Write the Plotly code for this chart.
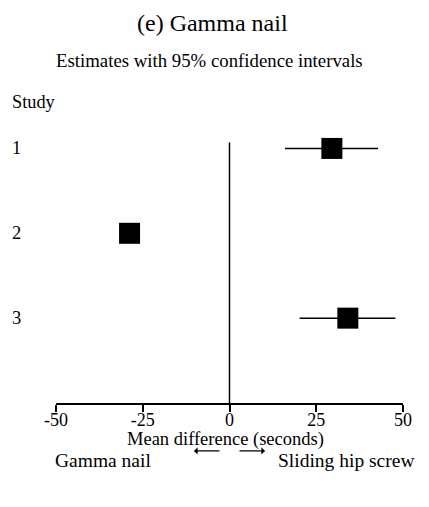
import plotly.graph_objects as go

studies = [1, 2, 3]
study_labels = ["1", "2", "3"]
estimates = [29.5, -28.8, 34.1]
ci_low = [16.0, -30.5, 20.2]
ci_high = [42.8, -27.0, 47.8]
x_ticks = [-50, -25, 0, 25, 50]
x_tick_labels = ["-50", "-25", "0", "25", "50"]

FONT = "Liberation Serif, Times New Roman, serif"
W, H = 429, 507
OFF = 8  # page body margin
L, R = 56 - OFF, 403 - OFF
T, B = 105.5 - OFF, 403 - OFF

def px(p):
    return (p - OFF - L) / (R - L)

def py(p):
    return (B - (p - OFF)) / (B - T)

fig = go.Figure()

# zero reference line
fig.add_trace(go.Scatter(
    x=[0, 0], y=[0.93, 4], mode="lines",
    line=dict(color="black", width=1.5), hoverinfo="skip", showlegend=False))

fig.add_trace(go.Scatter(
    x=estimates, y=studies, mode="markers",
    marker=dict(symbol="square", size=21, color="black"),
    error_x=dict(type="data", symmetric=False,
                 array=[h - e for h, e in zip(ci_high, estimates)],
                 arrayminus=[e - l for e, l in zip(estimates, ci_low)],
                 color="black", thickness=1.5, width=0),
    showlegend=False))

annotations = [
    dict(text="(e) Gamma nail", x=px(212), y=py(22.5), font=dict(size=24)),
    dict(text="Estimates with 95% confidence intervals", x=px(209), y=py(60), font=dict(size=18.8)),
    dict(text="Study", x=px(10), y=py(101), xanchor="left", font=dict(size=18.3)),
    dict(text="Mean difference (seconds)", x=px(225), y=py(439.5), font=dict(size=18.5)),
    dict(text="Gamma nail", x=px(53), y=py(461), xanchor="left", font=dict(size=19.5)),
    dict(text="Sliding hip screw", x=px(417), y=py(461), xanchor="right", font=dict(size=19.5)),
]
for a in annotations:
    a.setdefault("xanchor", "center")
    a.update(xref="paper", yref="paper", yanchor="middle", showarrow=False)
    a["font"] = dict(family=a["font"].get("family", FONT), color="black", size=a["font"]["size"])

# direction arrows (drawn as annotation arrows)
for head, tail in [(194, 221), (265, 238)]:
    annotations.append(dict(text="", x=px(head), y=py(451), xref="paper", yref="paper",
                            ax=tail - head, ay=0, showarrow=True, arrowhead=1,
                            arrowsize=1, arrowwidth=1.2, arrowcolor="black", standoff=0))

for s, lab in zip(studies, study_labels):
    annotations.append(dict(text=lab, x=px(10), y=s, xref="paper", yref="y",
                            xanchor="left", yanchor="middle", showarrow=False,
                            font=dict(family=FONT, size=18.5, color="black")))

fig.update_layout(
    width=W, height=H,
    margin=dict(l=L, r=W - R, t=T, b=H - B, pad=0),
    paper_bgcolor="white", plot_bgcolor="white",
    font=dict(family=FONT, size=18, color="black"),
    annotations=annotations,
    xaxis=dict(range=[-50, 50], tickvals=x_ticks, ticktext=x_tick_labels,
               showline=True, linecolor="black", linewidth=1.5,
               ticks="outside", ticklen=7, tickwidth=1.5, tickcolor="black",
               ticklabelstandoff=-7,
               showgrid=False, zeroline=False, fixedrange=True,
               tickfont=dict(family=FONT, size=18, color="black")),
    yaxis=dict(range=[4, 0.5], visible=False, showgrid=False, zeroline=False),
)

fig.write_html("out.html")
